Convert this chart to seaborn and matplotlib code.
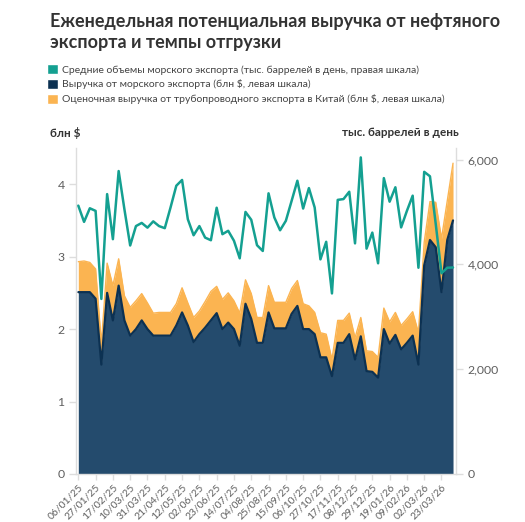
import matplotlib
matplotlib.use("Agg")
import matplotlib.pyplot as plt
import matplotlib.dates as mdates
from matplotlib.patches import Patch
import seaborn as sns
import pandas as pd

# weekly data, 06/01/25 .. 06/04/26
weeks = pd.date_range("2025-01-06", periods=66, freq="7D")

# average seaborne export volumes, thousand barrels per day (right axis)
sea_volume = [5120, 4810, 5070, 5020, 3340, 5340, 4480, 5780, 5050, 4360,
              4730, 4790, 4700, 4820, 4730, 4690, 5085, 5500, 5610, 4860,
              4555, 4730, 4510, 4460, 5080, 4575, 4640, 4450, 4115, 5000,
              4850, 4365, 4255, 5355, 4895, 4650, 4830, 5210, 5595, 5065,
              5455, 5085, 4095, 4430, 3445, 5230, 5245, 5385, 4400, 6040,
              4300, 4605, 4020, 5645, 5195, 5470, 4705, 5020, 5310, 3935,
              5765, 5680, 4770, 3830, 3935, 3940]

# seaborne export revenue, bn $ (left axis)
sea_revenue = [2.51, 2.51, 2.51, 2.42, 1.51, 2.50, 2.12, 2.60, 2.12, 1.91,
               2.00, 2.12, 2.00, 1.91, 1.91, 1.91, 1.91, 2.05, 2.23, 2.05,
               1.82, 1.93, 2.02, 2.12, 2.22, 2.00, 2.09, 2.00, 1.77, 2.35,
               2.14, 1.81, 1.81, 2.23, 2.01, 2.01, 2.01, 2.21, 2.32, 2.00,
               2.00, 1.93, 1.61, 1.61, 1.35, 1.81, 1.81, 1.93, 1.58, 1.90,
               1.42, 1.41, 1.33, 2.00, 1.80, 1.92, 1.72, 1.81, 1.91, 1.51,
               2.88, 3.23, 3.13, 2.51, 3.23, 3.50]

# estimated pipeline revenue from exports to China, bn $ (stacked on top)
pipeline_revenue = [0.42, 0.43, 0.41, 0.41, 0.29, 0.41, 0.48, 0.37, 0.34, 0.39,
                    0.39, 0.37, 0.36, 0.31, 0.32, 0.32, 0.32, 0.30, 0.34, 0.31,
                    0.34, 0.32, 0.36, 0.40, 0.37, 0.41, 0.41, 0.39, 0.45, 0.33,
                    0.35, 0.35, 0.35, 0.37, 0.36, 0.36, 0.36, 0.35, 0.35, 0.35,
                    0.32, 0.30, 0.34, 0.32, 0.23, 0.31, 0.31, 0.29, 0.30, 0.26,
                    0.28, 0.28, 0.28, 0.29, 0.30, 0.31, 0.33, 0.33, 0.33, 0.44,
                    0.32, 0.53, 0.62, 0.74, 0.54, 0.79]

title = "Еженедельная потенциальная выручка от нефтяного\nэкспорта и темпы отгрузки"
legend_labels = [
    "Средние объемы морского экспорта (тыс. баррелей в день, правая шкала)",
    "Выручка от морского экспорта (блн $, левая шкала)",
    "Оценочная выручка от трубопроводного экспорта в Китай (блн $, левая шкала)",
]

TEAL = "#14a091"
NAVY_FILL = "#244b6d"
NAVY_LINE = "#0c3152"
ORANGE = "#fbb451"
GREY = "#5f5f5f"
SPINE = "#dddddd"

sns.set_theme(style="white")
plt.rcParams["font.family"] = ["Lato", "DejaVu Sans"]

df = pd.DataFrame({"week": weeks, "volume": sea_volume,
                   "sea": sea_revenue, "pipe": pipeline_revenue})
df["total"] = df["sea"] + df["pipe"]

fig = plt.figure(figsize=(5.25, 5.22), dpi=100)
ax = fig.add_axes([0.1442, 0.092, 0.7253, 0.6245])

ax.fill_between(df["week"], df["sea"], df["total"], color=ORANGE, lw=0)
sns.lineplot(data=df, x="week", y="total", ax=ax, color=ORANGE, lw=1.0)
ax.fill_between(df["week"], 0, df["sea"], color=NAVY_FILL, lw=0)
sns.lineplot(data=df, x="week", y="sea", ax=ax, color=NAVY_LINE, lw=1.6)

ax2 = ax.twinx()
sns.lineplot(data=df, x="week", y="volume", ax=ax2, color=TEAL, lw=1.8)

x0 = mdates.date2num(weeks[0]) - 0.45 * 7
x1 = mdates.date2num(weeks[-1]) + 0.6 * 7
ax.set_xlim(x0, x1)
ax.set_ylim(0, 4.5)
ax2.set_ylim(0, 6220)

ax.set_xticks(weeks[::3])
ax.set_xticklabels([d.strftime("%d/%m/%y") for d in weeks[::3]],
                   rotation=45, ha="right", rotation_mode="anchor")
ax.set_yticks([0, 1, 2, 3, 4])
ax.set_yticklabels(["0", "1", "2", "3", "4"])
ax2.set_yticks([0, 2000, 4000, 6000])
ax2.set_yticklabels([f"{v:,}" for v in [0, 2000, 4000, 6000]])

for a in (ax, ax2):
    a.set_xlabel("")
    a.set_ylabel("")
    for s in a.spines.values():
        s.set_visible(False)
ax.spines["left"].set_visible(True)
ax.spines["bottom"].set_visible(True)
ax2.spines["right"].set_visible(True)
for s in (ax.spines["left"], ax.spines["bottom"], ax2.spines["right"]):
    s.set_color(SPINE)
    s.set_linewidth(1.0)

ax.tick_params(axis="x", bottom=True, length=4, width=1, color=SPINE,
               labelsize=7.5, labelcolor=GREY, pad=2)
ax.tick_params(axis="y", left=True, length=5, width=1, color=SPINE,
               labelsize=8.8, labelcolor=GREY, pad=3)
ax2.tick_params(axis="y", right=True, length=5, width=1, color=SPINE,
                labelsize=8.8, labelcolor=GREY, pad=3)

fig.text(50 / 525, 1 - 13 / 522, title, ha="left", va="top",
         fontsize=13, fontweight="bold", color="#333333", linespacing=1.3)

handles = [Patch(facecolor=TEAL), Patch(facecolor=NAVY_LINE), Patch(facecolor=ORANGE)]
fig.legend(handles, legend_labels, loc="upper left",
           bbox_to_anchor=(47 / 525, 1 - 64 / 522), frameon=False,
           fontsize=7.5, handlelength=1.1, handleheight=1.1,
           handletextpad=0.3, labelspacing=0.42, borderaxespad=0,
           borderpad=0, labelcolor="#444444")

fig.text(50 / 525, 1 - 133 / 522, "блн $", ha="left", va="center",
         fontsize=8.5, fontweight="bold", color="#333333")
fig.text(459 / 525, 1 - 133 / 522, "тыс. баррелей в день", ha="right",
         va="center", fontsize=8.5, fontweight="bold", color="#333333")

fig.savefig("out.png", dpi=100)
